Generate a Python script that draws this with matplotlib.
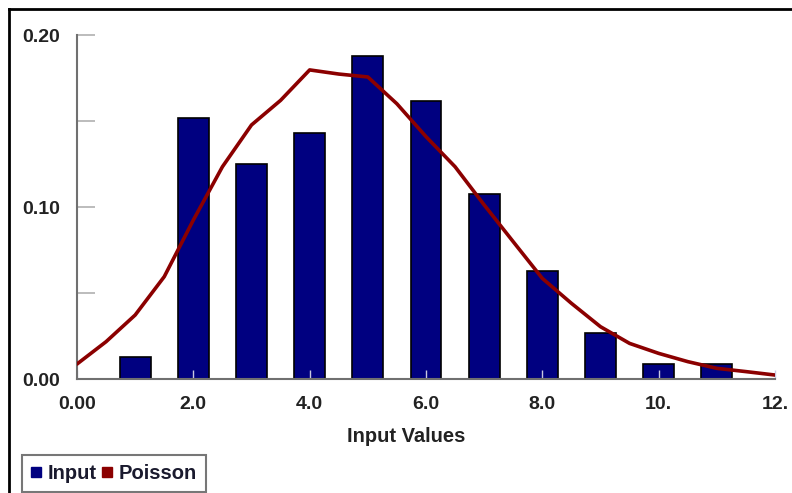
import matplotlib
matplotlib.use("Agg")
import matplotlib.pyplot as plt
from matplotlib.lines import Line2D

# ---- data ----
bar_x = [1, 2, 3, 4, 5, 6, 7, 8, 9, 10, 11]
input_vals = [0.0126, 0.152, 0.125, 0.143, 0.188, 0.1616, 0.1074, 0.0628, 0.0266, 0.0085, 0.0085]

poisson_x = [0, 0.5, 1, 1.5, 2, 2.5, 3, 3.5, 4, 4.5, 5, 5.5, 6, 6.5, 7, 7.5,
             8, 8.5, 9, 9.5, 10, 10.5, 11, 11.5, 12]
poisson_vals = [0.0087, 0.0217, 0.0372, 0.0595, 0.0924, 0.1234, 0.1477, 0.1620,
                0.1797, 0.1773, 0.1756, 0.1600, 0.1409, 0.1234, 0.1012, 0.0798,
                0.0585, 0.0440, 0.0304, 0.0207, 0.0149, 0.0101, 0.0062, 0.0043, 0.0023]

xticks = [0, 2, 4, 6, 8, 10, 12]
xtick_labels = ["0.00", "2.0", "4.0", "6.0", "8.0", "10.", "12."]
yticks = [0.0, 0.10, 0.20]
ytick_labels = ["0.00", "0.10", "0.20"]
yminor = [0.05, 0.15]

plt.rcParams['font.family'] = ['Liberation Sans', 'DejaVu Sans']
TXT = '#222222'
W, H = 792, 493
fig = plt.figure(figsize=(W / 100, H / 100), dpi=100)
ax = fig.add_axes([77 / W, 1 - 379 / H, (775 - 77) / W, (379 - 35) / H])

ax.bar(bar_x, input_vals, width=0.53, color='#000080', edgecolor='black',
       linewidth=1.2, zorder=1)
ax.plot(poisson_x, poisson_vals, color='#8B0000', lw=2.6, zorder=3,
        solid_joinstyle='round', solid_capstyle='round')

ax.set_xlim(0, 12)
ax.set_ylim(0, 0.20)
for s in ['top', 'right']:
    ax.spines[s].set_visible(False)
for s in ['left', 'bottom']:
    ax.spines[s].set_color('#707070')
    ax.spines[s].set_linewidth(1.5)

ax.set_yticks(yticks)
ax.set_yticklabels(ytick_labels)
ax.set_yticks(yminor, minor=True)
ax.tick_params(axis='y', which='both', direction='in', length=12.7, width=1.2,
               color='#b0b0b0', pad=12, labelsize=14, labelcolor=TXT)
ax.set_xticks(xticks)
ax.set_xticklabels(xtick_labels)
ax.tick_params(axis='x', direction='in', length=6.5, width=1.0,
               color='#c8c8e0', pad=12, labelsize=14, labelcolor=TXT)
for lab in ax.get_xticklabels() + ax.get_yticklabels():
    lab.set_fontweight('bold')

fig.text(406 / W, 1 - 437 / H, 'Input Values', ha='center', va='center',
         fontsize=14.5, fontweight='bold', color=TXT)

# outer frame (cropped on right/bottom)
fig.add_artist(Line2D([9 / W, 9 / W], [0, 1 - 9 / H], color='black', lw=2,
                      transform=fig.transFigure))
fig.add_artist(Line2D([9 / W, 1], [1 - 9 / H, 1 - 9 / H], color='black', lw=2,
                      transform=fig.transFigure))

handles = [Line2D([], [], marker='s', linestyle='none', color='#000080', markersize=7),
           Line2D([], [], marker='s', linestyle='none', color='#8B0000', markersize=7)]
leg = fig.legend(handles, ['Input', 'Poisson'], loc='upper left',
                 bbox_to_anchor=(22 / W, 1 - 455 / H), ncol=2, frameon=True,
                 fancybox=False, handlelength=0.5, handletextpad=0.3,
                 columnspacing=0.3, borderpad=0.45, borderaxespad=0,
                 prop={'size': 14.5, 'weight': 'bold'})
leg.get_frame().set_edgecolor('#555555')
leg.get_frame().set_linewidth(1.5)
for t in leg.get_texts():
    t.set_color('#1a1a2e')

fig.savefig('out.png', dpi=100)
